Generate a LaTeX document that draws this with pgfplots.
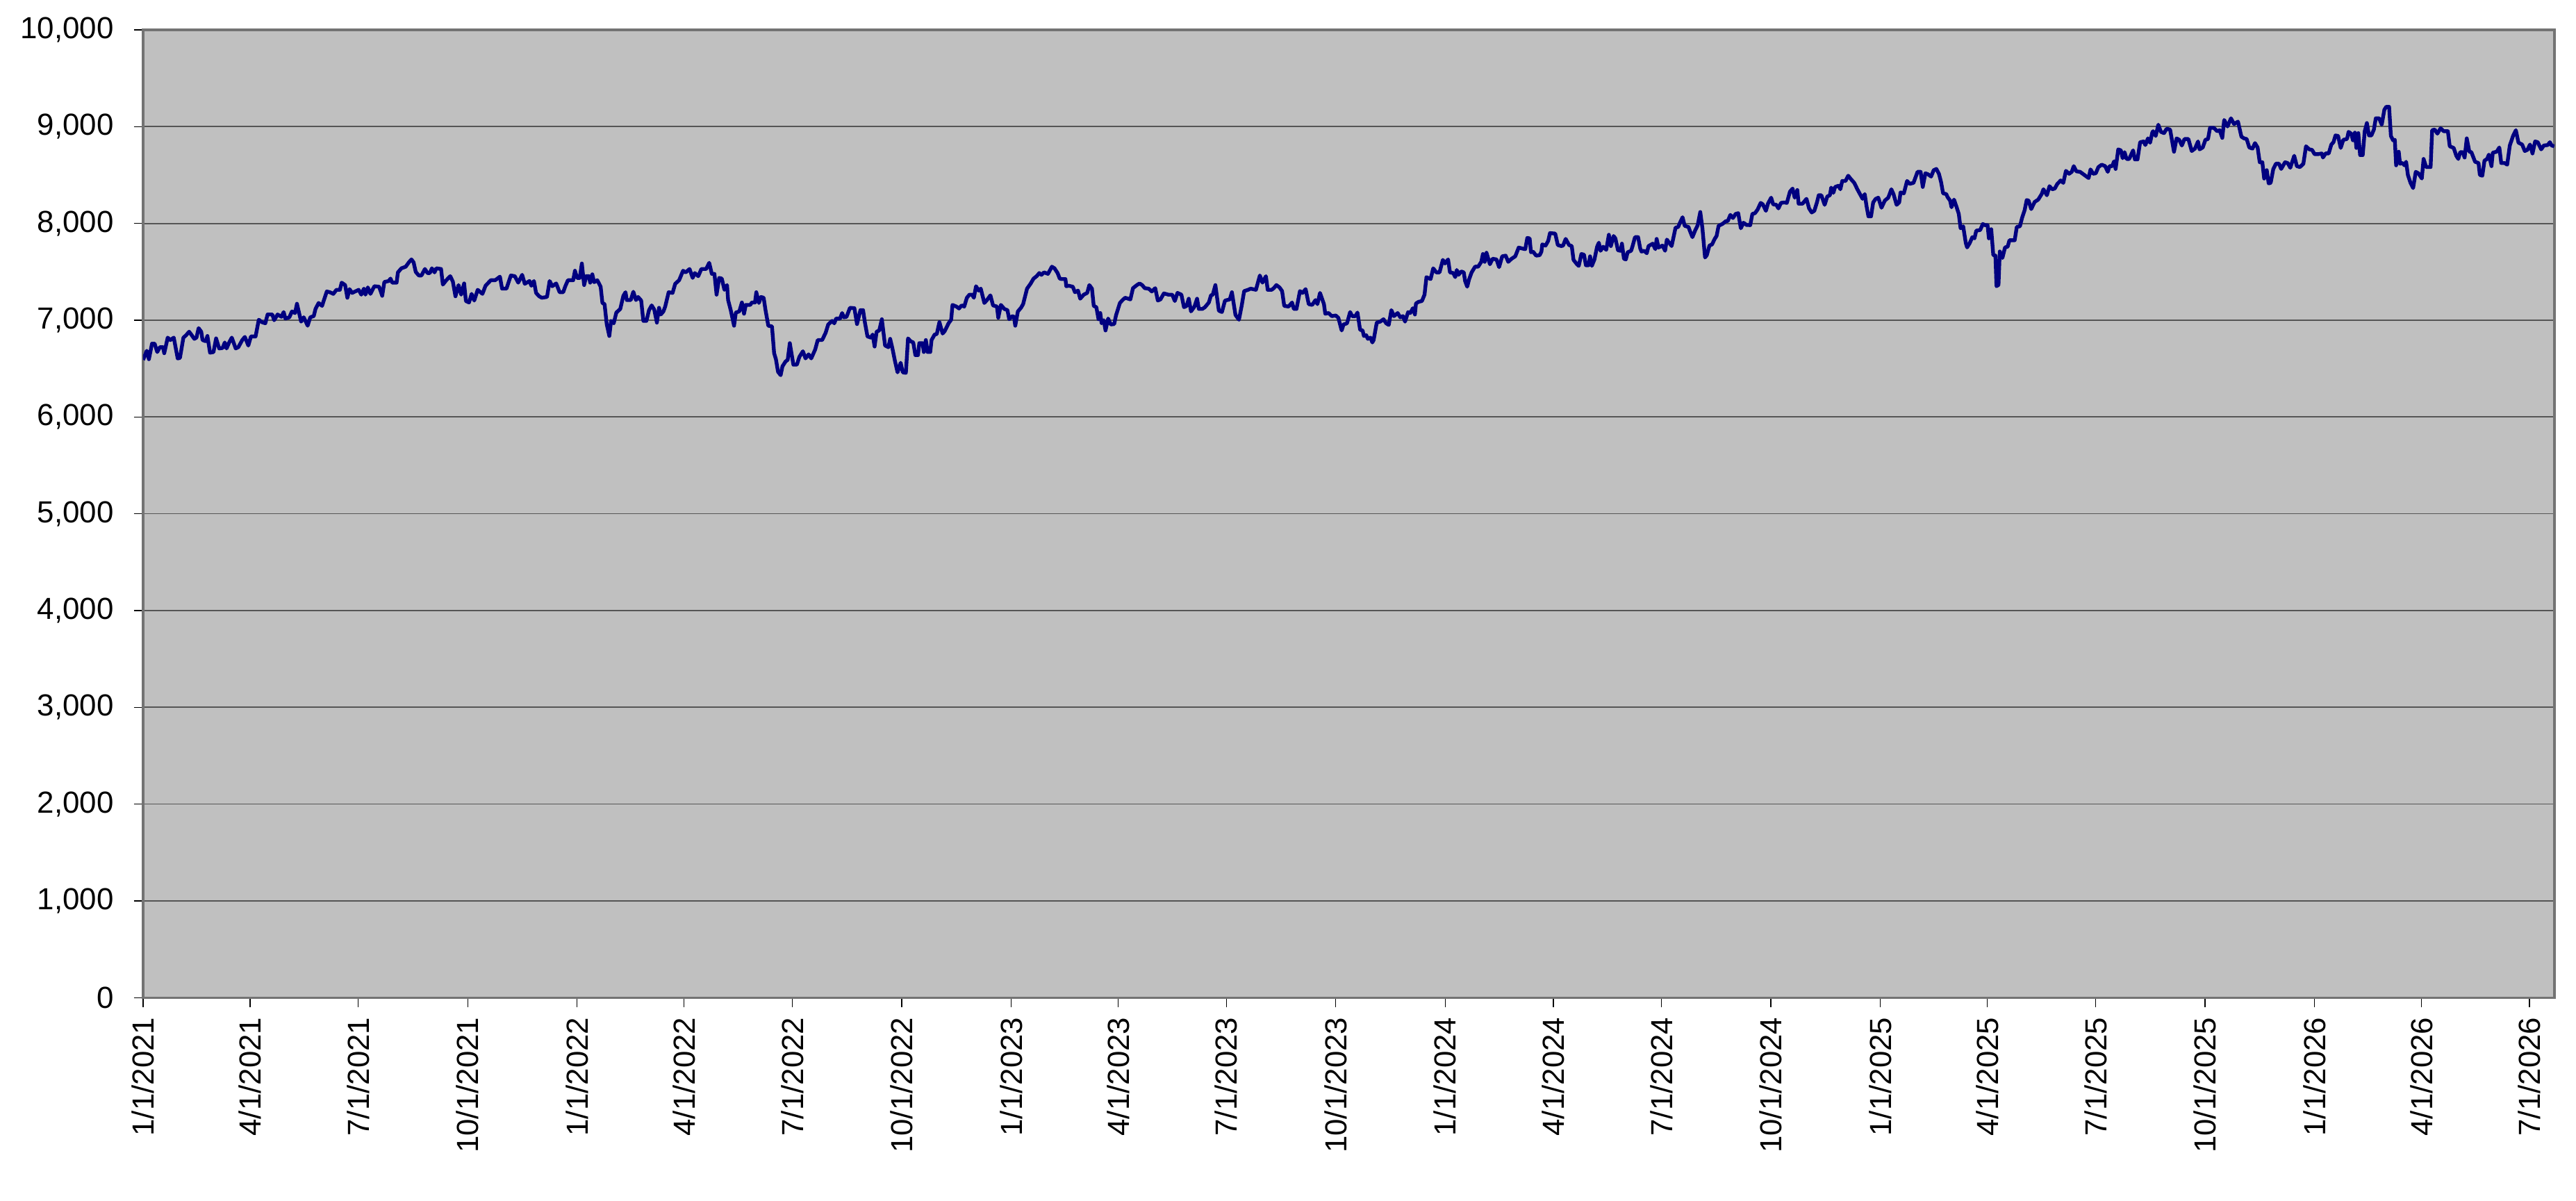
\documentclass[border=0pt]{standalone}
\usepackage{fontspec}
\setmainfont{Liberation Sans}
\usepackage{pgfplots}
\pgfplotsset{compat=1.18}
\definecolor{bggray}{RGB}{192,192,192}
\definecolor{navyline}{RGB}{0,0,128}
\definecolor{gridgray}{RGB}{85,85,85}
\begin{document}
\begin{tikzpicture}
\path[use as bounding box] (-47.9pt,-67.9pt) rectangle (814.4pt,334pt);
\begin{axis}[
  scale only axis,
  width=807.2pt, height=324pt,
  xmin=0, xmax=2028,
  ymin=0, ymax=10000,
  axis background/.style={fill=bggray},
  axis line style={draw=black!55, line width=0.75pt},
  ytick={0,1000,...,10000},
  xtick={0,90,181,273,365,455,546,638,730,820,911,1003,1095,1186,1277,1369,1461,1551,1642,1734,1826,1916,2007},
  xticklabels={1/1/2021,4/1/2021,7/1/2021,10/1/2021,1/1/2022,4/1/2022,7/1/2022,10/1/2022,1/1/2023,4/1/2023,7/1/2023,10/1/2023,1/1/2024,4/1/2024,7/1/2024,10/1/2024,1/1/2025,4/1/2025,7/1/2025,10/1/2025,1/1/2026,4/1/2026,7/1/2026},
  xtick pos=bottom, ytick pos=left,
  tick align=outside,
  major tick length=3.1pt,
  tick style={black, line width=0.3pt},
  ymajorgrids,
  grid style={gridgray, line width=0.4pt},
  ticklabel style={font=\fontsize{10.2}{12}\selectfont},
  xticklabel style={rotate=90, anchor=east},
  yticklabel style={xshift=-3.2pt},
  /pgf/number format/assume math mode=true,
  /pgf/number format/1000 sep={,},
  scaled y ticks=false,
]
\addplot[navyline, line width=1.25pt, no markers, line join=round] table {
x y
0 6590
3.1 6684
4.9 6597
7.5 6758
9.7 6758
11.9 6671
14.1 6721
16.7 6721
17.8 6659
20.7 6820
22.9 6795
25.8 6820
29.1 6605
31 6610
33.9 6820
36.1 6844
38.7 6881
40.5 6852
43.1 6807
44.9 6820
46.7 6918
48.9 6881
50 6795
52.6 6783
54.1 6837
56.3 6664
59.2 6671
61.4 6812
64 6708
66.9 6713
68.7 6770
70.2 6708
72.4 6770
74.6 6820
77.9 6708
80.1 6721
83.4 6795
85.6 6827
88.5 6738
90.7 6832
94.6 6832
97.3 7005
99.9 6980
102.8 6968
104.7 7059
108.7 7059
110.2 7000
113.1 7059
116.4 7035
118.2 7084
119.7 7017
123 7030
125.2 7091
127.8 7074
129.4 7170
132.9 6985
135.1 7030
138.4 6943
140.6 7030
143.5 7042
145 7116
147.6 7178
150.5 7148
154.5 7297
157.1 7289
160 7272
162.6 7314
165.5 7314
167 7388
169.9 7363
171.8 7232
173.6 7321
175.8 7282
181.3 7314
183.5 7264
185.7 7326
187 7264
189 7339
191.2 7272
194.5 7351
198.5 7346
201.1 7252
202.9 7395
206.6 7405
208.1 7430
209.5 7388
213.2 7388
214.3 7494
217.2 7536
220.9 7553
223.5 7598
225.7 7628
227.5 7598
229.3 7499
231.9 7462
234.1 7462
237 7529
239.2 7487
241.1 7487
242.9 7536
245.1 7494
246.6 7536
250.6 7529
252.1 7368
255 7413
258.3 7455
260.5 7400
262.7 7247
265.3 7363
267.5 7264
270 7380
271.5 7198
274.1 7183
276.3 7272
278.5 7203
281.4 7314
285.4 7272
288 7356
292.4 7413
296.1 7413
300.1 7450
301.9 7326
305.6 7326
309.3 7462
312.6 7455
315.5 7388
318.8 7469
321 7376
325 7405
326.5 7356
328.7 7405
330.5 7282
333.1 7247
335.3 7232
339.7 7240
341.9 7405
344.1 7351
347.4 7380
350.3 7289
353.3 7289
355.1 7351
357.3 7413
361.7 7413
363.2 7511
365 7437
367.2 7437
369 7586
370.9 7363
372.7 7455
374.9 7455
376 7388
377.8 7474
379.3 7393
382 7413
384.8 7346
386.3 7178
388.1 7166
389.9 6960
392.1 6837
393.6 6993
395.8 6968
398 7079
401.3 7116
403.9 7252
405.7 7289
406.8 7208
410.1 7208
412.3 7294
414.5 7208
416.3 7240
418.9 7203
420.7 6993
423.3 6993
425.5 7104
427.7 7153
429.9 7109
432.1 6975
433.9 7128
435.4 7059
437.6 7091
439.1 7141
442 7289
445.3 7282
447.5 7376
450.8 7413
454.1 7511
456.3 7494
459.6 7529
462.2 7437
464 7487
466.9 7455
469.5 7529
473.5 7529
476.1 7593
478.3 7479
480.5 7479
482.3 7264
484.5 7437
486.7 7430
488.9 7314
491.1 7363
492 7208
494.2 7104
497 6943
498.5 7079
501.4 7091
503.6 7183
505.4 7067
506.9 7158
510.6 7158
512 7183
514.6 7183
515.7 7289
517.9 7178
519.7 7240
521.9 7232
523.4 7109
525.8 6943
528.9 6936
530.7 6659
532.2 6597
534 6466
536.2 6432
537.7 6523
540.3 6573
542.1 6590
543.9 6763
546.9 6540
549.8 6540
552 6622
554.9 6679
557.1 6605
559.7 6647
561.9 6605
565.2 6696
567.4 6795
571.1 6795
574 6869
576.2 6956
579.5 6993
581.3 6968
582.8 7017
586.1 7017
587.9 7074
589.4 7030
591.6 7035
594.5 7128
598.2 7124
600.4 6960
603.3 7104
605.5 7104
607 6980
609.2 6832
612.1 6820
613.6 6852
615.2 6728
616.9 6881
619.1 6894
621.3 7010
624 6738
626.8 6721
628.3 6807
630.1 6713
632.3 6580
634.5 6461
637.1 6560
638.9 6461
641.5 6456
643.3 6812
645.5 6783
647.7 6770
649.5 6639
651.7 6639
652.8 6763
655.5 6763
656.6 6671
658.3 6795
659.8 6671
662 6671
663.1 6795
665.7 6852
667.5 6857
669.7 6980
672.4 6862
674.1 6886
677.4 6968
679.6 7005
680.7 7158
684 7141
686.2 7121
688.4 7153
690.6 7141
692.8 7232
695 7264
697.2 7264
698.7 7232
700.5 7351
702.7 7306
704.5 7326
707.5 7178
709.7 7208
712.6 7257
714.8 7153
718.1 7141
719.2 7025
721.4 7158
724.3 7116
726.9 7104
728.4 7010
730.9 7042
732.4 7035
733.5 6943
735.7 7091
738.3 7128
740.1 7166
743.4 7326
746.3 7376
748.9 7430
751.5 7455
753.7 7487
755.5 7469
757.7 7494
761 7479
764.3 7553
766.5 7536
769.1 7487
770.9 7430
772.7 7425
775.7 7425
776.4 7351
778.6 7356
781.9 7346
783.7 7289
786.3 7306
788.1 7222
791.1 7264
794 7282
795.8 7363
798 7326
799.5 7148
801.7 7134
803.5 7010
805 7074
806.1 6968
807.9 7000
809.4 6894
811.6 7017
813.8 6956
816.7 6960
818.2 7049
821.5 7178
823.7 7208
825.9 7232
830.3 7215
832.5 7331
835.8 7363
838 7380
840.2 7363
842.4 7331
845.7 7326
848.3 7297
851.2 7331
853.4 7203
855.6 7215
858.5 7277
862.2 7264
865.5 7264
867.7 7198
869.9 7282
873.2 7264
875.4 7134
877.6 7148
879.4 7222
881.3 7091
884.2 7141
886.4 7222
887.9 7116
890.8 7116
893 7134
896.3 7183
898.1 7257
899.6 7264
901.8 7363
904.7 7099
907.3 7084
909.9 7203
913.9 7215
915.7 7289
918.7 7054
921.6 7005
923.8 7141
926 7301
929.3 7314
931.5 7326
935.9 7314
939.2 7462
941.4 7388
944.3 7455
945.8 7314
949.1 7314
950.9 7331
953.1 7363
955.7 7339
957.9 7301
959.7 7148
963.4 7141
966.3 7183
967.8 7116
970 7116
972.9 7301
975.1 7282
977.7 7321
980.3 7166
983.2 7158
986 7208
987.6 7166
989.8 7282
993.1 7166
994.2 7067
997 7074
999.7 7042
1003 7049
1005.2 7025
1008 6894
1009.6 6956
1012.5 6968
1015.1 7084
1016.9 7042
1019.5 7042
1021.3 7079
1023.5 6901
1025.6 6894
1026.7 6837
1028.7 6844
1030 6807
1032.2 6820
1033.8 6770
1034.9 6795
1037.5 6975
1040.4 6985
1043.2 7010
1045.4 6968
1047.6 6951
1049.8 7104
1052 7042
1055.1 7074
1057.3 7030
1059.5 7042
1061.3 6985
1063.9 7084
1065.7 7074
1067.9 7124
1069.6 7059
1070.5 7173
1072.7 7190
1075.5 7198
1077.7 7264
1079.3 7445
1082.8 7425
1085 7536
1087.6 7494
1090.3 7494
1093.1 7623
1094.9 7586
1097.5 7628
1099.1 7494
1101.9 7487
1103.5 7445
1104.8 7519
1106.3 7469
1108.5 7504
1110.7 7494
1111.8 7405
1113.6 7346
1115.1 7420
1117.3 7494
1120.2 7553
1122.8 7553
1125.4 7603
1126.8 7684
1128.3 7603
1129.8 7697
1132.7 7578
1134.9 7635
1138.2 7628
1140.4 7548
1143 7660
1145.9 7667
1148.1 7603
1150.9 7635
1154 7660
1156.9 7751
1159.7 7741
1162.4 7734
1164.1 7850
1166.1 7845
1167.2 7702
1168.9 7709
1171.6 7667
1174.5 7672
1176 7709
1176.7 7783
1179.5 7771
1181.7 7820
1183.2 7900
1187.6 7895
1189.8 7776
1192.7 7766
1194.2 7771
1196.4 7840
1199.3 7776
1201.5 7766
1203 7623
1205.9 7578
1207.4 7561
1209.6 7684
1211.8 7677
1213.4 7568
1215.6 7568
1216.9 7660
1218.4 7561
1220.6 7628
1222.8 7759
1224.3 7801
1225.7 7717
1227.9 7759
1230.5 7727
1232.7 7883
1234.4 7766
1236.7 7870
1238.2 7845
1240.4 7722
1242.6 7717
1243.7 7791
1245.4 7635
1247 7628
1248.5 7702
1251.4 7717
1252.5 7759
1254.7 7858
1257.3 7858
1259.1 7741
1260.2 7709
1262.4 7717
1264.6 7692
1266.1 7766
1269.6 7791
1271.8 7734
1272.9 7840
1274.5 7751
1277.8 7771
1280 7717
1281.5 7833
1285.5 7766
1288.8 7956
1291 7963
1292.5 8007
1294.7 8064
1296.5 7975
1299.7 7963
1300.8 7925
1303 7858
1305.2 7925
1307.4 7981
1309.6 8118
1311.4 7950
1313.6 7648
1315.1 7672
1317.3 7771
1319.5 7783
1321.7 7840
1323.3 7870
1325 7975
1328.3 7995
1331.2 8024
1332.7 8024
1334.9 8088
1337.1 8056
1339.3 8098
1341.5 8106
1343.7 7950
1345.9 8007
1348.7 7983
1350.3 7983
1351.6 7982
1353.4 8098
1355.6 8106
1357.8 8143
1360.4 8212
1362.2 8197
1364.8 8130
1366.5 8204
1369.2 8266
1370.9 8197
1373.6 8192
1375.3 8155
1377.5 8212
1380.2 8217
1382.4 8212
1385 8328
1387.2 8360
1389 8266
1391.2 8345
1392.3 8204
1395.6 8204
1398.9 8254
1401.1 8155
1403.3 8113
1405.5 8130
1407.7 8217
1409.2 8291
1411.4 8291
1414.2 8192
1416.4 8278
1418.6 8291
1419.7 8370
1421.5 8316
1423 8377
1425.9 8390
1427.4 8353
1429 8439
1431.8 8439
1434 8493
1436.2 8459
1439.1 8419
1441.7 8353
1443.9 8303
1446.1 8254
1447.9 8303
1449.4 8180
1451 8073
1453.2 8073
1455 8217
1457.1 8254
1459.3 8266
1462 8162
1464.8 8236
1467.7 8266
1470.3 8353
1472.1 8303
1474.7 8192
1476.9 8217
1478 8320
1480.8 8311
1483.5 8439
1485.7 8409
1488.9 8419
1492.3 8533
1494.9 8533
1496.7 8377
1498.9 8518
1501.1 8508
1503.7 8484
1505.9 8550
1508.1 8563
1510.3 8513
1512.1 8427
1513.8 8311
1516.5 8303
1517.6 8271
1519.7 8236
1520.9 8167
1523 8246
1525.2 8167
1527 8098
1528.5 7950
1530.7 7970
1532.9 7797
1534 7752
1536.2 7797
1538.4 7858
1540.2 7846
1541.7 7925
1545 7932
1547.2 7994
1549 7982
1551.2 7982
1552.3 7846
1554.3 7940
1556 7673
1557.8 7668
1558.7 7352
1560.4 7364
1561.5 7710
1563.7 7643
1565.9 7752
1568.1 7760
1569.6 7826
1574 7826
1575.8 7965
1578.4 7970
1580.2 8056
1582.4 8138
1584.1 8241
1585.7 8236
1587.9 8148
1590.8 8222
1593.8 8246
1596.7 8303
1598.2 8353
1601.1 8291
1603.3 8385
1605.5 8353
1607.7 8360
1609.9 8409
1612.7 8444
1614.9 8419
1617.1 8543
1619.8 8513
1622 8533
1623.7 8592
1625.9 8538
1629 8533
1631.8 8508
1634 8488
1636.2 8469
1637.8 8558
1640 8513
1642.2 8518
1644.4 8582
1647.2 8607
1650.1 8592
1652.3 8533
1653.8 8592
1656 8592
1657.6 8642
1658.9 8563
1661.1 8765
1663.3 8755
1664.8 8674
1666.4 8736
1668.1 8666
1670.3 8666
1673.6 8755
1675.1 8661
1677.3 8661
1679.5 8839
1682.4 8847
1683.9 8810
1686.1 8879
1687.9 8834
1689.7 8938
1690.4 8953
1692.6 8904
1694.8 9020
1697 8946
1699.6 8933
1701.8 8978
1704.7 8970
1708 8741
1710.2 8879
1712.4 8864
1714.6 8805
1716.8 8872
1720.1 8872
1722.9 8748
1725.6 8773
1728.2 8847
1729.5 8765
1732.2 8785
1734.4 8864
1736.6 8872
1738.3 8988
1741.4 8988
1744.3 8953
1746.4 8963
1748.6 8884
1750.2 9069
1753 9002
1755.9 9086
1758.5 9027
1761.8 9052
1764.7 8896
1766.9 8879
1769.1 8872
1771.3 8785
1774 8773
1776.1 8830
1778.3 8785
1780.1 8632
1782.3 8632
1783.8 8464
1786 8550
1787.6 8414
1789.3 8419
1791.5 8563
1793.7 8617
1796.3 8617
1798.1 8563
1801.4 8632
1803.6 8624
1805.8 8575
1809.1 8699
1811.3 8592
1813.9 8582
1816.8 8617
1819 8797
1821.8 8765
1824.1 8760
1826.2 8716
1829.3 8716
1832.2 8723
1833.3 8681
1835.5 8723
1838.1 8723
1840.3 8815
1842.1 8839
1843.8 8909
1846 8904
1848.2 8780
1850.4 8864
1853.5 8872
1854.8 8946
1857 8928
1858.5 8859
1860.1 8938
1861.4 8780
1863 8933
1864.5 8706
1866.7 8706
1868.4 8953
1870.2 9037
1872 8909
1874 8909
1876.1 8970
1877.7 9086
1880.5 9086
1882.7 9020
1884.9 9175
1886.5 9205
1888.9 9205
1890.4 8904
1892.2 8859
1893.7 8864
1894.8 8600
1897 8741
1898.1 8617
1900.3 8624
1901.8 8600
1903.2 8637
1904.7 8501
1906.9 8419
1909.1 8365
1911.3 8533
1913.5 8518
1916.4 8464
1917.9 8666
1920.1 8582
1923.8 8582
1925.1 8963
1927.3 8970
1929.5 8928
1932.2 8983
1934.8 8953
1938.3 8953
1939.9 8797
1943.2 8780
1945.4 8699
1947.1 8666
1948.7 8736
1950.9 8736
1952.4 8681
1954.2 8879
1956.4 8741
1958.1 8736
1961.2 8637
1964.1 8624
1965.2 8501
1967.3 8493
1969.1 8649
1971.3 8666
1972.8 8711
1975 8592
1976.1 8731
1979.4 8741
1981.6 8785
1983.2 8624
1986 8624
1988.2 8607
1990.4 8805
1993.3 8909
1995.5 8963
1997.7 8834
2000.8 8815
2003 8748
2005.2 8760
2007.4 8815
2009.5 8723
2011.7 8847
2013.9 8839
2016.8 8765
2019 8805
2022.3 8810
2024.1 8839
2025.6 8805
2027.8 8797
};
\end{axis}
\end{tikzpicture}
\end{document}
